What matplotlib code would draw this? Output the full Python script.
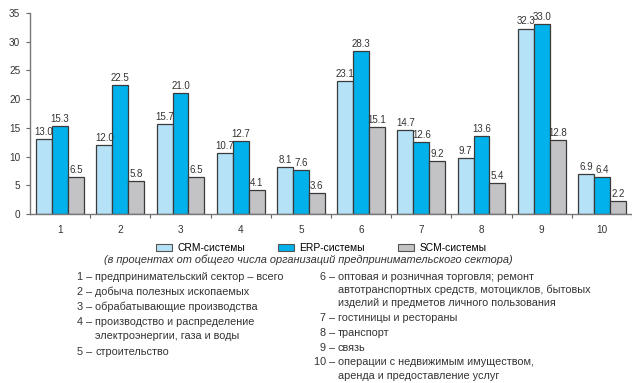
import numpy as np
import matplotlib.pyplot as plt
from matplotlib.patches import Patch

plt.rcParams['font.family'] = ['Liberation Sans', 'DejaVu Sans']

# Data (percent of all business-sector organizations)
groups = ['1', '2', '3', '4', '5', '6', '7', '8', '9', '10']
crm = [13.0, 12.0, 15.7, 10.7, 8.1, 23.1, 14.7, 9.7, 32.3, 6.9]
erp = [15.3, 22.5, 21.0, 12.7, 7.6, 28.3, 12.6, 13.6, 33.0, 6.4]
scm = [6.5, 5.8, 6.5, 4.1, 3.6, 15.1, 9.2, 5.4, 12.8, 2.2]
series_names = ['CRM-системы', 'ERP-системы', 'SCM-системы']
colors = ['#b5e2f6', '#00b1eb', '#c3c3c6']

left_notes = [
    ('1', ['предпринимательский сектор – всего']),
    ('2', ['добыча полезных ископаемых']),
    ('3', ['обрабатывающие производства']),
    ('4', ['производство и распределение', 'электроэнергии, газа и воды']),
    ('5', ['строительство']),
]
right_notes = [
    ('6', ['оптовая и розничная торговля; ремонт',
           'автотранспортных средств, мотоциклов, бытовых',
           'изделий и предметов личного пользования']),
    ('7', ['гостиницы и рестораны']),
    ('8', ['транспорт']),
    ('9', ['связь']),
    ('10', ['операции с недвижимым имуществом,', 'аренда и предоставление услуг']),
]
subtitle = '(в процентах от общего числа организаций предпринимательского сектора)'

W, H = 632, 383
fig = plt.figure(figsize=(W / 100, H / 100), dpi=100)
ax = fig.add_axes([30 / W, 1 - 214 / H, 602 / W, 201 / H])

x = np.arange(1, len(groups) + 1)
bw = 0.265
for i, (vals, c) in enumerate(zip([crm, erp, scm], colors)):
    pos = x + (i - 1) * bw
    bars = ax.bar(pos, vals, width=bw, color=c, edgecolor='#3a3a3a', linewidth=0.9)
    for b, v in zip(bars, vals):
        ax.text(b.get_x() + b.get_width() / 2, v + 0.35, f'{v:.1f}',
                ha='center', va='bottom', fontsize=7, color='#333333')

ax.set_xlim(0.5, len(groups) + 0.5)
ax.set_ylim(0, 35)
ax.set_yticks(range(0, 36, 5))
ax.set_xticks(x + 0.5, minor=False)
ax.set_xticklabels([])
ax.set_xticks(x, minor=True)
ax.set_xticklabels(groups, minor=True)
ax.tick_params(axis='x', which='major', length=3, color='#666666')
ax.tick_params(axis='x', which='minor', length=0, pad=8, labelsize=7.2, labelcolor='#333333')
ax.tick_params(axis='y', length=3, color='#666666', pad=4, labelsize=7.2, labelcolor='#333333')
for s in ['top', 'right']:
    ax.spines[s].set_visible(False)
for s in ['left', 'bottom']:
    ax.spines[s].set_color('#777777')
    ax.spines[s].set_linewidth(1.0)

handles = [Patch(facecolor=c, edgecolor='#555555', linewidth=0.8) for c in colors]
fig.legend(handles, series_names, loc='center', bbox_to_anchor=(321 / W, 1 - 248 / H),
           ncol=3, frameon=False, fontsize=7.4, handlelength=1.6, handleheight=0.6,
           handletextpad=0.5, columnspacing=3.2, borderpad=0)

fig.text(308 / W, 1 - 260 / H, subtitle, ha='center', va='center', fontsize=7.9,
         style='italic', color='#333333')


def draw_notes(notes, num_right, text_left, ys):
    k = 0
    for num, lines in notes:
        fig.text(num_right / W, 1 - ys[k] / H, num + ' –', ha='right', va='center',
                 fontsize=7.8, color='#333333')
        for j, line in enumerate(lines):
            fig.text(text_left / W, 1 - ys[k] / H, line, ha='left', va='center',
                     fontsize=7.8, color='#333333')
            k += 1


draw_notes(left_notes, 92, 95, [277, 292, 307, 322, 336, 352])
draw_notes(right_notes, 335, 338, [277, 290, 303, 318, 333, 348, 362, 376])

fig.savefig('out.png', dpi=100)
